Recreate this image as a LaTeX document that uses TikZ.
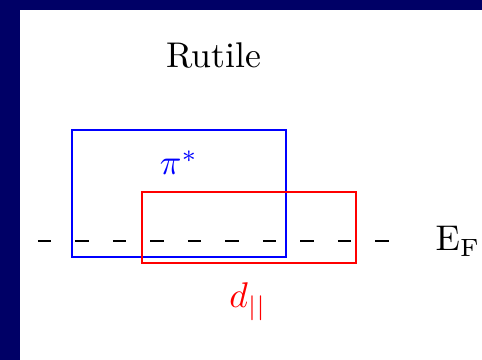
\documentclass[tikz,border=0pt]{standalone}
\definecolor{navy}{RGB}{0,0,102}
\begin{document}
\begin{tikzpicture}[x=0.28pt,y=-0.28pt]
            \useasboundingbox (0,0) rectangle (482,360);
            \fill [navy] (0,0) rectangle (482,360);
            \fill [white] (20,10) rectangle (482,360);
            \coordinate (efleft) at (38,241);
            \coordinate (efright) at (390,241);
            \draw [line width=0.6pt,dash pattern=on 3.7pt off 6.8pt] (efleft) -- (efright);
            \draw [blue,line width=0.6pt] (72,130) rectangle (286,257);
            \draw [red,line width=0.6pt] (142,192) rectangle (356,263);
            \path (214,68) node (rutile) [anchor=base] {Rutile};
            \path (179,175) node (pistar) [anchor=base,text=blue] {$\pi^*$};
            \path (248,308) node (dpar) [anchor=base,text=red] {$d_{||}$};
            \path (458,251) node (ef) [anchor=base] {$\mathrm{E}_\mathrm{F}$};
        \end{tikzpicture}
\end{document}
